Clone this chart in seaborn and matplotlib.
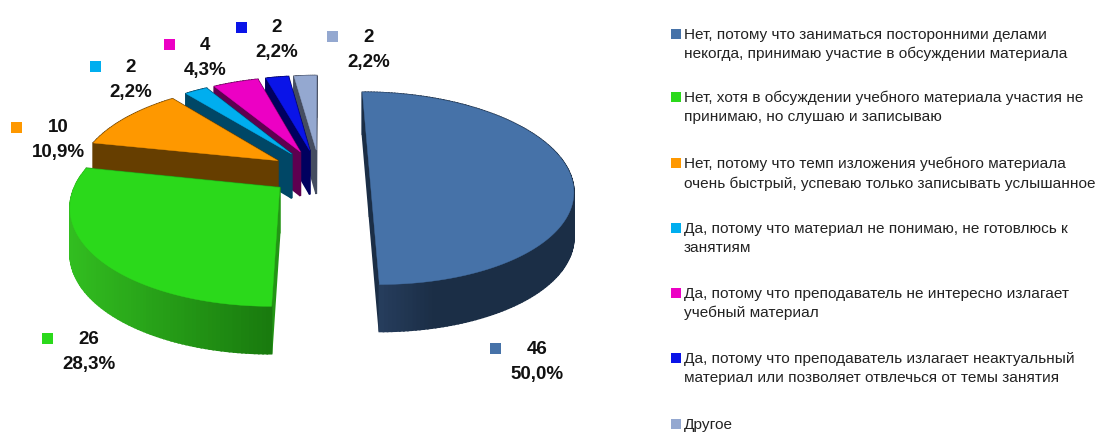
import numpy as np
import matplotlib
matplotlib.use("Agg")
import matplotlib.pyplot as plt
import seaborn as sns

categories = [
    "Нет, потому что заниматься посторонними делами\nнекогда, принимаю участие в обсуждении материала",
    "Нет, хотя в обсуждении учебного материала участия не\nпринимаю, но слушаю и записываю",
    "Нет, потому что темп изложения учебного материала\nочень быстрый, успеваю только записывать услышанное",
    "Да, потому что материал не понимаю, не готовлюсь к\nзанятиям",
    "Да, потому что преподаватель не интересно излагает\nучебный материал",
    "Да, потому что преподаватель излагает неактуальный\nматериал или позволяет отвлечься от темы занятия",
    "Другое",
]
values = [46, 26, 10, 2, 4, 2, 2]
top_colors = ["#4672A8", "#2BD91B", "#FE9800", "#00AEEF", "#EC00C4", "#0A14E8", "#94A8D0"]
side_left = ["#2A4264", "#32BE20", "#663E00", "#004766", "#5E0050", "#00005F", "#454D60"]
side_right = ["#1B2E46", "#197A0E", "#663E00", "#004766", "#5E0050", "#00005F", "#454D60"]

label_xy = [(537, 349, 495), (89, 339, 47), (58, 128, 16), (131, 67, 95),
            (205, 45, 169), (277, 28, 241), (369, 37, 332)]
legend_y = [34, 97, 163, 228, 293, 358, 424]

sns.set_theme(style="white")
plt.rcParams["font.family"] = ["Liberation Sans", "DejaVu Sans"]

fig = plt.figure(figsize=(10.96, 4.32), dpi=100, facecolor="white")
ax = fig.add_axes([0, 0, 1, 1])
ax.set_xlim(0, 1096)
ax.set_ylim(432, 0)
ax.axis("off")

XC, YC, B, A, K, EXPL = 319.5, 172.5, 200.0, 93.5, 0.165, 0.25
START = 0.0


def project(u, v):
    w = 1 - K * v
    return XC + B * u / w, YC + A * v / w


def depth(v):
    return 44.5 + 2.5 * v


def mix(c1, c2, f):
    a, b = np.array(matplotlib.colors.to_rgb(c1)), np.array(matplotlib.colors.to_rgb(c2))
    return tuple(a + (b - a) * f)


total = sum(values)
edges = START + np.cumsum([0] + values) / total * 360

for i in reversed(range(len(values))):
    t = np.radians(np.linspace(edges[i], edges[i + 1], max(int(values[i] * 4), 12)))
    mid = np.radians((edges[i] + edges[i + 1]) / 2)
    du, dv = EXPL * np.sin(mid), -EXPL * np.cos(mid)
    u = np.concatenate([[du], du + np.sin(t), [du]])
    v = np.concatenate([[dv], dv - np.cos(t), [dv]])
    x, y = project(u, v)
    d = depth(v)
    quads = []
    xmin, xmax = x[1:-1].min(), x[1:-1].max()
    for j in range(len(x) - 1):
        radial = j == 0 or j == len(x) - 2
        f = ((x[j] + x[j + 1]) / 2 - xmin) / max(xmax - xmin, 1)
        if i == 0:
            f = min(f * 3, 1)
        col = mix(side_left[i], side_right[i], f)
        if radial:
            col = side_right[i] if i == 0 else mix(side_left[i], side_right[i], 0.6)
        quads.append(((v[j] + v[j + 1]) / 2,
                      [x[j], x[j + 1], x[j + 1], x[j]],
                      [y[j], y[j + 1], y[j + 1] + d[j + 1], y[j] + d[j]], col))
    for _, qx, qy, col in sorted(quads, key=lambda q: q[0]):
        ax.fill(qx, qy, color=col, lw=1.2, zorder=2 + (len(values) - i))
    ax.fill(x, y, color=top_colors[i], lw=0.3, zorder=2 + (len(values) - i))

for i, val in enumerate(values):
    cx, cy, sx = label_xy[i]
    pct = f"{val / total * 100:.1f}".replace(".", ",") + "%"
    ax.text(cx, cy, str(val), ha="center", va="center", fontsize=13.5, fontweight="bold", color="#111111", zorder=20)
    ax.text(cx, cy + 25, pct, ha="center", va="center", fontsize=13.5, fontweight="bold", color="#111111", zorder=20)
    ax.fill([sx - 5.5, sx + 5.5, sx + 5.5, sx - 5.5], [cy - 6, cy - 6, cy + 5, cy + 5], color=top_colors[i], lw=0, zorder=20)

for i, text in enumerate(categories):
    ly = legend_y[i]
    ax.fill([671, 681, 681, 671], [ly - 5, ly - 5, ly + 5, ly + 5], color=top_colors[i], lw=0, zorder=20)
    ax.text(684, ly - 6, text, ha="left", va="top", fontsize=11.1, color="#222222", linespacing=1.44, zorder=20)

fig.savefig("out.png", dpi=100, facecolor="white")
